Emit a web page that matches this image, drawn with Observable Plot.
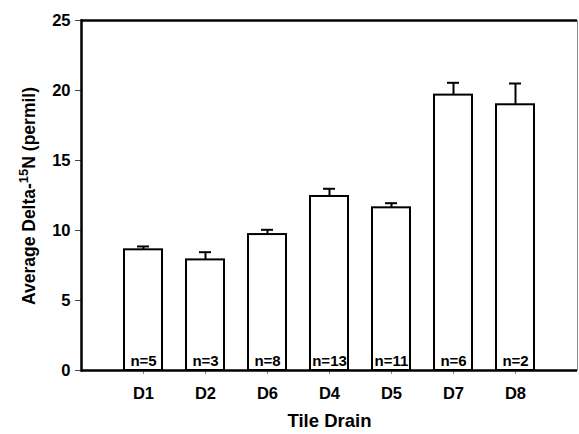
<!DOCTYPE html>
<html>
<head>
<meta charset="utf-8">
<script src="https://cdn.jsdelivr.net/npm/d3@7"></script>
<script src="https://cdn.jsdelivr.net/npm/@observablehq/plot@0.6"></script>
<style>
  html, body { margin: 0; padding: 0; background: #fff; }
  #chart svg { display: block; }
</style>
</head>
<body>
<div id="chart"></div>
<script>
const drains = ["D1", "D2", "D6", "D4", "D5", "D7", "D8"];
const means = [8.62, 7.9, 9.71, 12.43, 11.62, 19.67, 18.98];
const errors = [0.24, 0.55, 0.34, 0.55, 0.33, 0.88, 1.52];
const counts = [5, 3, 8, 13, 11, 6, 2];
const yTicks = [0, 5, 10, 15, 20, 25];
const xTitle = "Tile Drain";

const data = drains.map((d, i) => ({drain: d, mean: means[i], err: errors[i], n: counts[i]}));

const font = "'Liberation Sans', Arial, Helvetica, sans-serif";

const chart = Plot.plot({
  width: 579,
  height: 434,
  marginLeft: 81,
  marginRight: 2,
  marginTop: 20,
  marginBottom: 64,
  style: {fontFamily: font, background: "#fff", color: "#000", overflow: "visible"},
  x: {type: "band", domain: drains, paddingInner: 0.388, paddingOuter: 0.694, axis: null},
  y: {domain: [0, 25], axis: null},
  marks: [
    Plot.frame({anchor: "right", stroke: "#8a8a8a", strokeWidth: 1}),
    Plot.barY(data, {x: "drain", y: "mean", fill: "#fff", stroke: "#000", strokeWidth: 2}),
    Plot.ruleX(data, {x: "drain", y1: "mean", y2: d => d.mean + d.err, stroke: "#000", strokeWidth: 2}),
    Plot.tickY(data, {x: "drain", y: d => d.mean + d.err, stroke: "#000", strokeWidth: 2, insetLeft: 13, insetRight: 13}),
    Plot.text(data, {x: "drain", y: 0, text: d => `n=${d.n}`, dy: -9, fontSize: 15, fontWeight: "bold", fill: "#000"}),
    Plot.axisY({ticks: yTicks, tickSize: 6, tickPadding: 5, fontSize: 16.5, fontWeight: "bold", stroke: "#444", label: null}),
    Plot.axisX({tickSize: 4, tickPadding: 13, fontSize: 16.5, fontWeight: "bold", stroke: "#888", label: null}),
    Plot.text([xTitle], {frameAnchor: "bottom", dy: 56, fontSize: 18.5, fontWeight: "bold", fill: "#000"}),
    Plot.ruleY([0, 25], {stroke: "#000", strokeWidth: 2.5}),
    Plot.frame({anchor: "left", stroke: "#000", strokeWidth: 2.5})
  ]
});

// y-axis title with a superscript
const svg = d3.select(chart);
const t = svg.append("text")
  .attr("transform", "translate(29,196) rotate(-90)")
  .attr("text-anchor", "middle")
  .attr("font-family", font)
  .attr("font-weight", "bold")
  .attr("font-size", 17.5)
  .attr("fill", "#000")
  .attr("dy", "0.35em");
t.append("tspan").text("Average Delta-");
t.append("tspan").attr("font-size", 13).attr("dy", -7).text("15");
t.append("tspan").attr("dy", 7).text("N (permil)");

document.getElementById("chart").appendChild(chart);
</script>
</body>
</html>
